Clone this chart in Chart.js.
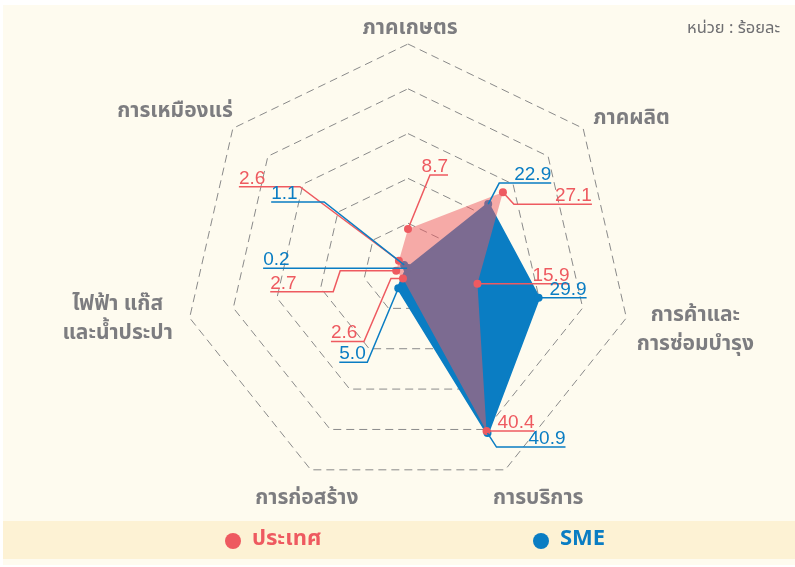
<!DOCTYPE html>
<html>
<head>
<meta charset="utf-8">
<script src="https://cdn.jsdelivr.net/npm/chart.js@4"></script>
<style>
    html, body { margin: 0; padding: 0; background: #ffffff; }
    canvas { display: block; }
</style>
</head>
<body>
<canvas id="graficoRadar" width="795" height="567"></canvas>
<script>
// data (percent)
const categories = ['ภาคเกษตร', 'ภาคผลิต', ['การค้าและ', 'การซ่อมบำรุง'], 'การบริการ', 'การก่อสร้าง', ['ไฟฟ้า แก๊ส', 'และน้ำประปา'], 'การเหมืองแร่'];
const seriesNames = ['ประเทศ', 'SME'];
const countryValues = [8.7, 27.1, 15.9, 40.4, 2.6, 2.7, 2.6];
const smeValues = [0, 22.9, 29.9, 40.9, 5.0, 0.2, 1.1];
const scaleTicks = [0, 10, 20, 30, 40, 50];
const unitText = 'หน่วย : ร้อยละ';

const RED = '#ee5a60';
const BLUE = '#0a7dc3';
const thaiFont = '"Noto Sans Thai", "Noto Sans", sans-serif';

// axis name placement, offset from the outer vertex: dx, dy, align
const axisLabelPlace = [
    [2, -14, 'center'],
    [10, -9, 'left'],
    [69, -1, 'center'],
    [33, 30, 'center'],
    [-4, 30, 'center'],
    [-72, -12, 'center'],
    [0, -16, 'right']
];

// leader lines for the value labels: elbows relative to the point, then the underline run
const leaderLines = [
    [
        {path: [[22, -54]], run: 18},
        {path: [[11, 12]], run: 78},
        {path: [], run: 92},
        {path: [], run: 48},
        {path: [[-12, 0], [-39, 63]], run: -33},
        {path: [[-56, 0], [-63, 21]], run: -63},
        {path: [[-99, -74]], run: -61}
    ],
    [
        null,
        {path: [[11, -21]], run: 52},
        {path: [], run: 48},
        {path: [[9, 14]], run: 69},
        {path: [[-31, 74]], run: -28},
        {path: [], run: -144},
        {path: [[-80, -63]], run: -53}
    ]
];

const backgroundPlugin = {
    id: 'fundo',
    beforeDraw: function (chart) {
        let ctx = chart.ctx;
        ctx.save();
        ctx.fillStyle = '#ffffff';
        ctx.fillRect(0, 0, chart.width, chart.height);
        ctx.fillStyle = '#fefbef';
        ctx.fillRect(3, 5, chart.width - 3, chart.height - 7);
        // legend band
        ctx.fillStyle = '#fdf2d4';
        ctx.fillRect(3, 521, chart.width - 3, 38);
        ctx.restore();
    }
};

const labelsPlugin = {
    id: 'rotulos',
    afterDatasetsDraw: function (chart) {
        let ctx = chart.ctx;
        let scale = chart.scales.r;
        ctx.save();

        // axis names
        ctx.fillStyle = '#7d7d80';
        ctx.font = 'bold 21px ' + thaiFont;
        ctx.textBaseline = 'middle';
        chart.data.labels.forEach(function (label, i) {
            let v = scale.getPointPosition(i, scale.drawingArea);
            let place = axisLabelPlace[i];
            let lines = Array.isArray(label) ? label : [label];
            ctx.textAlign = place[2];
            lines.forEach(function (line, k) {
                ctx.fillText(line, v.x + place[0], v.y + place[1] + k * 29);
            });
        });

        // value labels with leader lines
        ctx.font = '19px "Liberation Sans", Arial, sans-serif';
        ctx.lineWidth = 1.5;
        chart.data.datasets.forEach(function (dataset, d) {
            let meta = chart.getDatasetMeta(d);
            meta.data.forEach(function (point, i) {
                let leader = leaderLines[d][i];
                if (!leader) {
                    return;
                }
                ctx.strokeStyle = dataset.borderColorLabel;
                ctx.fillStyle = dataset.borderColorLabel;
                ctx.beginPath();
                ctx.moveTo(point.x, point.y);
                let x = point.x;
                let y = point.y;
                for (let step of leader.path) {
                    x = point.x + step[0];
                    y = point.y + step[1];
                    ctx.lineTo(x, y);
                }
                let endX = x + leader.run;
                ctx.lineTo(endX, y);
                ctx.stroke();
                ctx.textBaseline = 'alphabetic';
                ctx.textAlign = leader.run > 0 ? 'right' : 'left';
                ctx.fillText(dataset.data[i].toFixed(1), endX, y - 3);
            });
        });

        // unit note
        ctx.fillStyle = '#6f6f72';
        ctx.font = '16.5px ' + thaiFont;
        ctx.textAlign = 'right';
        ctx.textBaseline = 'middle';
        ctx.fillText(unitText, 780, 30);

        // legend
        let legendX = [233, 541];
        chart.data.datasets.forEach(function (dataset, d) {
            ctx.fillStyle = dataset.borderColorLabel;
            ctx.beginPath();
            ctx.arc(legendX[d], 541, 8, 0, Math.PI * 2);
            ctx.fill();
            ctx.font = 'bold 22px ' + thaiFont;
            ctx.textAlign = 'left';
            ctx.textBaseline = 'middle';
            ctx.fillText(dataset.label, legendX[d] + 19, 541);
        });
        ctx.restore();
    }
};

window.onload = function () {
    let graficoElement = document.getElementById('graficoRadar').getContext('2d');
    let grafico = new Chart(graficoElement, {
        type: 'radar',
        data: {
            labels: categories,
            datasets: [{
                label: seriesNames[0],
                data: countryValues,
                backgroundColor: 'rgba(238, 90, 96, 0.5)',
                borderColor: 'rgba(238, 90, 96, 0)',
                borderWidth: 0,
                borderColorLabel: RED,
                pointBackgroundColor: RED,
                pointBorderWidth: 0,
                pointRadius: 4,
                fill: true
            }, {
                label: seriesNames[1],
                data: smeValues,
                backgroundColor: BLUE,
                borderColor: BLUE,
                borderWidth: 3,
                borderColorLabel: BLUE,
                pointBackgroundColor: BLUE,
                pointBorderWidth: 0,
                pointRadius: 4,
                fill: true
            }]
        },
        options: {
            responsive: false,
            animation: false,
            devicePixelRatio: 1,
            layout: {
                padding: {left: 184, right: 162, top: 44, bottom: 75}
            },
            elements: {
                line: {tension: 0}
            },
            scales: {
                r: {
                    min: scaleTicks[0],
                    max: scaleTicks[scaleTicks.length - 1],
                    ticks: {
                        display: false,
                        stepSize: scaleTicks[1] - scaleTicks[0]
                    },
                    angleLines: {display: false},
                    pointLabels: {display: false},
                    grid: {
                        color: '#8a8a8a',
                        lineWidth: 1
                    },
                    border: {dash: [8, 5]}
                }
            },
            plugins: {
                legend: {display: false},
                tooltip: {enabled: false}
            }
        },
        plugins: [backgroundPlugin, labelsPlugin]
    });
};
</script>
</body>
</html>
